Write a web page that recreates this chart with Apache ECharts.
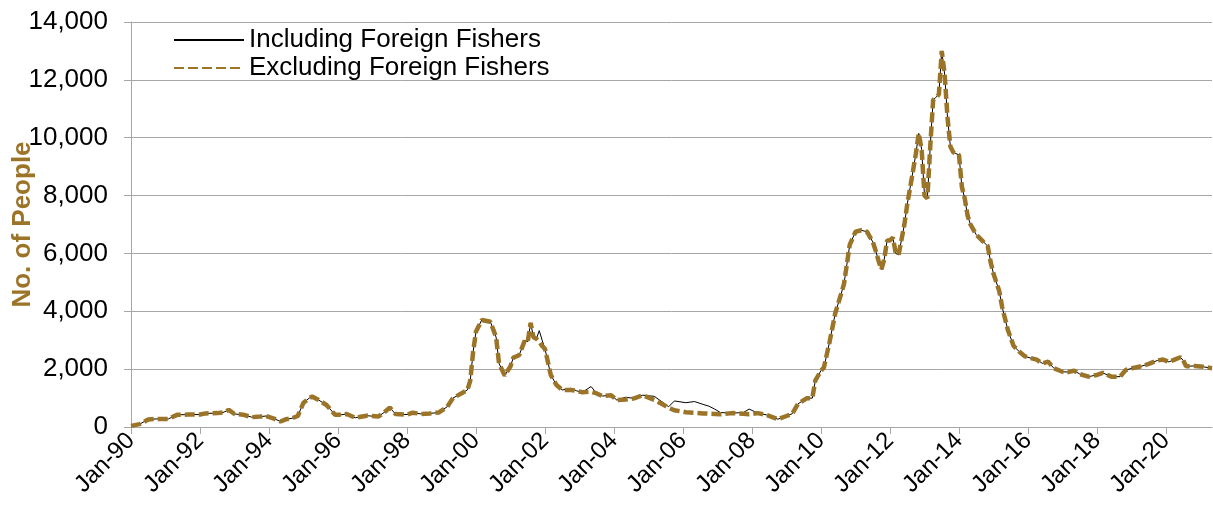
<!DOCTYPE html>
<html>
<head>
<meta charset="utf-8">
<script src="https://cdn.jsdelivr.net/npm/echarts@6/dist/echarts.min.js"></script>
<style>html,body{margin:0;padding:0;background:#fff}#c{width:1213px;height:518px}</style>
</head>
<body>
<div id="c"></div>
<script>
const dates = ["1990-01","1990-04","1990-07","1990-10","1991-02","1991-05","1991-09","1992-01","1992-03","1992-07","1992-09","1992-11","1993-01","1993-04","1993-07","1993-10","1993-12","1994-03","1994-05","1994-07","1994-09","1994-11","1995-01","1995-03","1995-04","1995-06","1995-09","1995-12","1996-02","1996-04","1996-07","1996-11","1997-03","1997-05","1997-07","1997-09","1998-01","1998-03","1998-06","1998-09","1998-12","1999-03","1999-05","1999-07","1999-10","1999-11","1999-12","2000-01","2000-03","2000-06","2000-08","2000-09","2000-11","2001-01","2001-02","2001-04","2001-06","2001-07","2001-08","2001-09","2001-10","2001-11","2001-12","2002-01","2002-03","2002-05","2002-07","2002-10","2002-12","2003-02","2003-05","2003-07","2003-09","2003-12","2004-02","2004-05","2004-08","2004-11","2005-03","2005-06","2005-08","2005-10","2006-02","2006-05","2006-08","2006-10","2006-12","2007-02","2007-06","2007-10","2007-12","2008-03","2008-06","2008-10","2009-01","2009-03","2009-05","2009-08","2009-10","2009-11","2010-01","2010-02","2010-04","2010-06","2010-08","2010-09","2010-11","2011-01","2011-03","2011-05","2011-07","2011-08","2011-09","2011-10","2011-11","2011-12","2012-01","2012-02","2012-03","2012-04","2012-06","2012-07","2012-09","2012-10","2012-11","2012-12","2013-01","2013-02","2013-03","2013-04","2013-05","2013-06","2013-07","2013-08","2013-09","2013-10","2013-11","2014-01","2014-02","2014-03","2014-04","2014-05","2014-07","2014-09","2014-11","2014-12","2015-01","2015-03","2015-04","2015-06","2015-08","2015-10","2015-12","2016-02","2016-04","2016-06","2016-08","2016-10","2017-01","2017-03","2017-05","2017-07","2017-10","2018-01","2018-03","2018-06","2018-09","2018-11","2019-02","2019-04","2019-07","2019-10","2019-12","2020-02","2020-04","2020-06","2020-07","2020-08","2020-11","2021-02","2021-05"];

const including = [40,100,260,280,280,420,430,430,470,480,500,590,450,425,340,360,380,280,190,270,300,380,840,1000,1050,950,760,420,420,450,320,390,360,500,670,450,430,495,450,470,500,700,1000,1110,1280,1600,2600,3300,3700,3640,3100,2200,1780,2100,2400,2480,3000,2950,3600,3100,3050,3330,3000,2700,1800,1450,1280,1340,1250,1200,1400,1160,1070,1100,930,1030,990,1100,1060,850,700,900,840,880,780,720,620,500,480,500,620,480,420,270,380,460,800,990,1000,1600,1950,2050,2950,3950,4600,4950,6300,6750,6800,6750,6400,6100,5750,5450,5800,6450,6450,6550,6000,5950,7000,7700,8850,9450,10150,9600,8000,7900,9700,11300,11400,11500,13000,12200,10700,9700,9500,9400,8300,7900,7300,7000,6650,6450,6250,5700,5300,4700,4150,3350,2800,2600,2440,2380,2330,2200,2260,2030,1910,1900,1950,1830,1740,1800,1870,1740,1740,1970,2050,2090,2180,2300,2330,2250,2330,2410,2300,2100,2110,2080,2030];

const excluding = [40,100,260,280,280,420,430,430,470,480,500,590,450,425,340,360,380,280,190,270,300,380,840,1000,1050,950,760,420,420,450,320,390,360,500,670,450,430,495,450,470,500,700,1000,1110,1280,1600,2600,3300,3700,3640,3100,2200,1780,2100,2400,2480,3000,2950,3600,3100,3050,2950,2800,2700,1800,1450,1280,1280,1250,1200,1220,1160,1070,1100,930,950,990,1100,940,780,660,580,510,490,470,460,450,440,480,460,440,480,420,270,380,460,800,990,1000,1600,1950,2050,2950,3950,4600,4950,6300,6750,6800,6750,6400,6100,5750,5450,5800,6450,6450,6550,6000,5950,7000,7700,8850,9450,10150,9600,8000,7900,9700,11300,11400,11500,13000,12200,10700,9700,9500,9400,8300,7900,7300,7000,6650,6450,6250,5700,5300,4700,4150,3350,2800,2600,2440,2380,2330,2200,2260,2030,1910,1900,1950,1830,1740,1800,1870,1740,1740,1970,2050,2090,2180,2300,2330,2250,2330,2410,2300,2100,2110,2080,2030];

const seriesNames = ["Including Foreign Fishers", "Excluding Foreign Fishers"];
const monthNames = ["Jan","Feb","Mar","Apr","May","Jun","Jul","Aug","Sep","Oct","Nov","Dec"];
const startYear = 1990, endDate = "2021-05";

function monthIndex(d){ const [y,m] = d.split("-").map(Number); return (y-startYear)*12 + (m-1); }
const xMax = monthIndex(endDate);
const pairs = vals => dates.map((d,i)=>[monthIndex(d), vals[i]]);

const brown = "#9B7428";
const gridGray = "#A6A6A6";
const font = '"Liberation Sans", Arial, sans-serif';
const chart = echarts.init(document.getElementById('c'));
chart.setOption({
  animation:false,
  backgroundColor:'#fff',
  textStyle:{fontFamily:font},
  grid:{left:131, right:1, top:22, bottom:91, outerBoundsMode:'none', containLabel:false},
  legend:{
    orient:'vertical', left:168, top:22, itemWidth:70, itemHeight:14, itemGap:2,
    itemStyle:{opacity:0},
    textStyle:{fontSize:26, color:'#000', fontFamily:font},
    data:seriesNames
  },
  xAxis:{
    type:'value', min:0, max:xMax, interval:24,
    axisLine:{lineStyle:{color:gridGray, width:1}},
    axisTick:{show:true, length:7, lineStyle:{color:gridGray}},
    splitLine:{show:false},
    axisLabel:{
      rotate:45, fontSize:24, color:'#000', margin:10, showMaxLabel:false,
      formatter:v=> (v%12===0) ? monthNames[0]+"-"+String((startYear+v/12)%100).padStart(2,"0") : ""
    }
  },
  yAxis:{
    type:'value', min:0, max:14000, interval:2000,
    name:'No. of People', nameLocation:'middle', nameGap:95, nameMoveOverlap:false,
    nameTextStyle:{fontSize:26, fontWeight:'bold', color:brown, fontFamily:font},
    axisLine:{show:true, lineStyle:{color:gridGray}},
    axisTick:{show:true, inside:false, length:7, lineStyle:{color:gridGray}},
    splitLine:{lineStyle:{color:gridGray, width:1}},
    axisLabel:{fontSize:26, color:'#000', margin:23,
      formatter:v=>v.toLocaleString('en-US')}
  },
  series:[
    {name:seriesNames[0], type:'line', data:pairs(including), symbol:'none', showSymbol:false,
     lineStyle:{color:'#000', width:1}, itemStyle:{color:'#000'}, z:2},
    {name:seriesNames[1], type:'line', data:pairs(excluding), symbol:'none', showSymbol:false,
     lineStyle:{color:brown, width:4.5, type:[10,4]}, itemStyle:{color:brown}, z:3}
  ]
});
</script>
</body>
</html>
